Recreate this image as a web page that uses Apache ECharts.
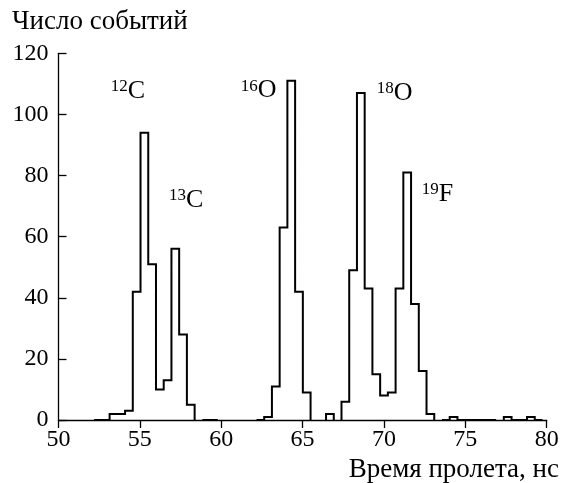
<!DOCTYPE html>
<html>
<head>
<meta charset="utf-8">
<script src="https://cdn.jsdelivr.net/npm/echarts@6/dist/echarts.min.js"></script>
<style>
html,body{margin:0;padding:0;background:#fff;}
#chart{width:564px;height:483px;}
</style>
</head>
<body>
<div id="chart"></div>
<script>
// Histogram binning (time of flight, ns)
const binStart = 52.19;
const binWidth = 0.475;
// Counts per bin (null = bin not drawn)
const counts = [0,0,2,2,3,42,94,51,10,13,56,28,5,
  null,0,0,null,null,null,null,null,
  0,1,11,63,111,42,9,
  null,null,2,null,
  6,49,107,43,15,8,9,43,81,38,16,2,
  null,0,1,0,0,0,0,0,null,1,0,0,1,0];
const xTicks = [50,55,60,65,70,75,80];
const yTicks = [0,20,40,60,80,100,120];
const peakIsotopes = ['12','13','16','18','19'];
const peakElements = ['C','C','O','O','F'];
const peakLabelX = [53.21,56.79,61.20,69.56,72.32];
const peakLabelY = [107.6,72.0,107.8,107.0,73.9];
const yTitle = 'Число событий';
const xTitle = 'Время пролета, нс';

// build outline points
const pts = [];
let inRun = false;
for (let i = 0; i < counts.length; i++) {
  const left = binStart + i * binWidth;
  const right = left + binWidth;
  const v = counts[i];
  if (v === null) {
    if (inRun) { pts.push([left, 0]); pts.push([left, null]); inRun = false; }
    continue;
  }
  if (!inRun) { pts.push([left, 0]); inRun = true; }
  pts.push([left, v]);
  pts.push([right, v]);
  if (i === counts.length - 1) pts.push([right, 0]);
}

const FONT = 'Liberation Serif';
const chart = echarts.init(document.getElementById('chart'));
const option = {
  animation: false,
  backgroundColor: '#fff',
  grid: {left: 58.5, right: 17.3, top: 53.3, bottom: 63, containLabel: false},
  xAxis: {
    type: 'value', min: xTicks[0], max: xTicks[xTicks.length-1], interval: 5,
    axisLine: {show: true, onZero: false, lineStyle: {color: '#000', width: 1.3}},
    axisTick: {show: true, inside: false, length: 8, lineStyle: {color: '#000', width: 1.3}},
    axisLabel: {color: '#000', fontFamily: FONT, fontSize: 24, margin: 8},
    splitLine: {show: false}
  },
  yAxis: {
    type: 'value', min: yTicks[0], max: yTicks[yTicks.length-1], interval: 20,
    axisLine: {show: true, lineStyle: {color: '#000', width: 1.3}},
    axisTick: {show: true, inside: true, length: 8, lineStyle: {color: '#000', width: 1.3}},
    axisLabel: {color: '#000', fontFamily: FONT, fontSize: 24, margin: 10},
    splitLine: {show: false}
  },
  series: [{
    type: 'line', data: pts, showSymbol: false, symbol: 'none',
    connectNulls: false, clip: false,
    lineStyle: {color: '#000', width: 2, join: 'miter'}
  }]
};
chart.setOption(option);

const graphics = [
  {type: 'text', x: 12, y: 22, style: {text: yTitle, fill: '#000', font: '27px "' + FONT + '"', verticalAlign: 'middle', align: 'left'}},
  {type: 'text', x: 559, y: 470, style: {text: xTitle, fill: '#000', font: '27px "' + FONT + '"', verticalAlign: 'middle', align: 'right'}}
];
for (let i = 0; i < peakIsotopes.length; i++) {
  const p = chart.convertToPixel({gridIndex: 0}, [peakLabelX[i], peakLabelY[i]]);
  graphics.push({
    type: 'text', x: p[0], y: p[1],
    style: {
      text: '{s|' + peakIsotopes[i] + '}{m|' + peakElements[i] + '}',
      verticalAlign: 'middle', align: 'left',
      rich: {
        s: {fontFamily: FONT, fontSize: 17, lineHeight: 26, verticalAlign: 'top', fill: '#000'},
        m: {fontFamily: FONT, fontSize: 26, lineHeight: 26, verticalAlign: 'middle', fill: '#000'}
      }
    }
  });
}
chart.setOption({graphic: graphics});
</script>
</body>
</html>
